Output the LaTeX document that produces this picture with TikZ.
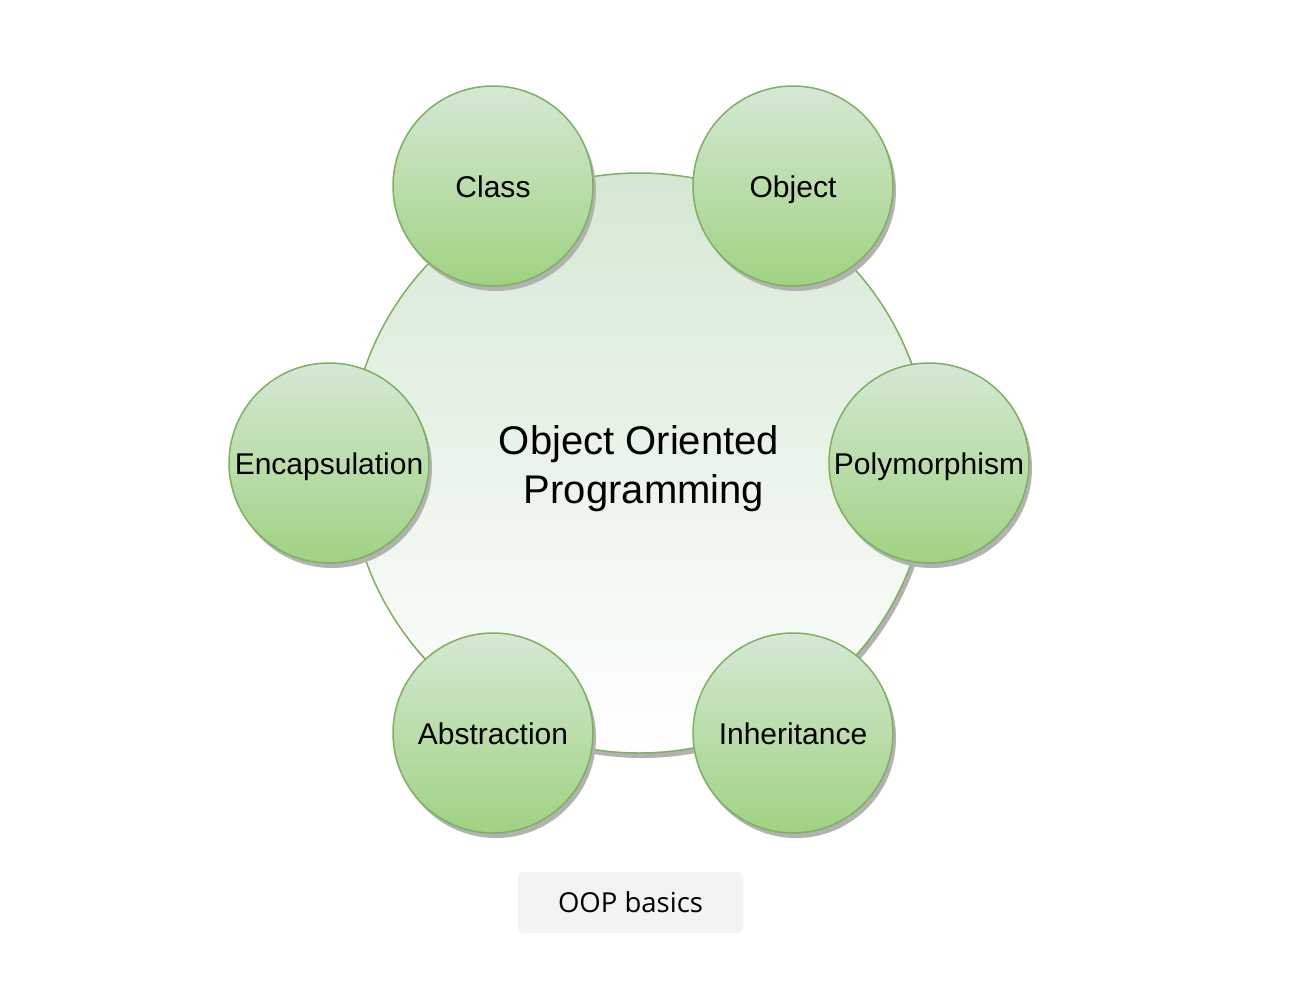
\documentclass[tikz,border=0pt]{standalone}
\usepackage{fontspec}
\setmainfont{Liberation Sans}
\newfontfamily\notefont{Open Sans}
\usetikzlibrary{shadows}

\definecolor{oopline}{HTML}{7FAF62}
\definecolor{ooptop}{HTML}{D5E8D4}
\definecolor{oopbottom}{HTML}{A0D282}
\definecolor{notefill}{HTML}{F3F3F3}

\begin{document}
\begin{tikzpicture}[
  x=1pt, y=-1pt,
  hub/.style={draw=oopline,circle,line width=1.5pt,minimum size=580pt,inner sep=0,
    top color=ooptop,bottom color=white,
    drop shadow={shadow xshift=3pt,shadow yshift=-5pt,fill=black!30,opacity=1}},
  hubtext/.style={align=center,inner sep=0,font=\fontsize{40}{49}\selectfont},
  topic/.style={draw=oopline,circle,line width=1.5pt,minimum size=200pt,inner sep=0,
    top color=ooptop,bottom color=oopbottom,text height=22pt,text depth=0pt,
    drop shadow={shadow xshift=3pt,shadow yshift=-5pt,fill=black!30,opacity=1},
    font=\fontsize{30}{36}\selectfont},
  note/.style={fill=notefill,rounded corners=6pt,minimum width=225pt,minimum height=61pt,
    inner sep=0,text=black,font=\notefont\fontsize{27.5}{32}\selectfont}
  ]

  \useasboundingbox[fill=white] (0, 0) rectangle (1308, 980);

  \node [hub] (oop) at (639, 463) {};
  \node [hubtext] (ooptext) at ([yshift=-6pt]oop.center) {Object Oriented\\ \hspace*{10pt}Programming};

  \node [topic] (class) at (493, 186) {Class};
  \node [topic] (object) at (793, 186) {Object};
  \node [topic] (encap) at (329, 463) {Encapsulation};
  \node [topic] (poly) at (929, 463) {Polymorphism};
  \node [topic] (abstr) at (493, 733) {Abstraction};
  \node [topic] (inher) at (793, 733) {Inheritance};

  \node [note] (caption) at (630.5, 902.5) {OOP basics};

\end{tikzpicture}
\end{document}
